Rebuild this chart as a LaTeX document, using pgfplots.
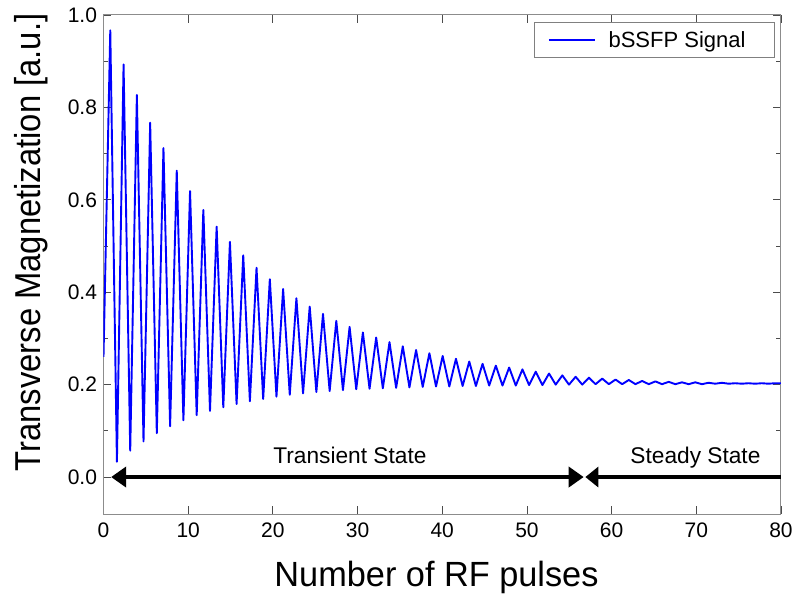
\documentclass[border=0pt]{standalone}
\usepackage{fontspec}
\setmainfont{Liberation Sans}
\usepackage{graphicx}
\usepackage{pgfplots}
\pgfplotsset{compat=1.18}
\usetikzlibrary{arrows.meta}
\pgfplotstableread{
x y
0 0.26
0.80 0.967
1.585 0.033
2.37 0.893
3.155 0.057
3.94 0.827
4.725 0.077
5.51 0.767
6.295 0.095
7.08 0.712
7.865 0.110
8.65 0.663
9.435 0.123
10.22 0.619
11.005 0.134
11.79 0.578
12.575 0.143
13.36 0.542
14.145 0.151
14.93 0.509
15.715 0.158
16.50 0.480
17.285 0.164
18.07 0.453
18.855 0.169
19.64 0.428
20.425 0.174
21.21 0.407
21.995 0.178
22.78 0.387
23.565 0.181
24.35 0.369
25.135 0.184
25.92 0.353
26.705 0.186
27.49 0.338
28.275 0.188
29.06 0.325
29.845 0.190
30.63 0.313
31.415 0.191
32.20 0.302
32.985 0.192
33.77 0.292
34.555 0.193
35.34 0.283
36.125 0.194
36.91 0.275
37.695 0.195
38.48 0.268
39.265 0.196
40.05 0.262
40.835 0.196
41.62 0.256
42.405 0.197
43.19 0.250
43.975 0.197
44.76 0.245
45.545 0.198
46.33 0.241
47.115 0.198
47.90 0.237
48.685 0.198
49.47 0.233
50.255 0.199
51.04 0.228
51.825 0.199
52.61 0.224
53.395 0.200
54.18 0.220
54.965 0.200
55.75 0.217
56.535 0.200
57.32 0.215
58.105 0.201
58.89 0.213
59.675 0.201
60.46 0.211
61.245 0.201
62.03 0.210
62.815 0.201
63.60 0.208
64.385 0.201
65.17 0.207
65.955 0.201
66.74 0.206
67.525 0.201
68.31 0.205
69.095 0.201
69.88 0.205
70.665 0.201
71.45 0.204
72.235 0.202
73.02 0.204
73.805 0.202
74.59 0.203
75.375 0.202
76.16 0.203
76.945 0.202
77.73 0.203
78.515 0.202
79.30 0.203
80.00 0.203
}\signaldata
\begin{document}
\begin{tikzpicture}
\useasboundingbox (-103.5bp,-82bp) rectangle (694.5bp,514bp);
\begin{axis}[
  at={(0,0)}, anchor=south west,
  scale only axis, width=677.5bp, height=499bp,
  xmin=0, xmax=80, ymin=-0.08, ymax=1.0,
  xtick={0,10,...,80}, ytick={0,0.2,0.4,0.6,0.8,1.0},
  minor ytick={0.1,0.3,0.5,0.7,0.9},
  tick align=inside, tick pos=both,
  major tick length=8bp, minor tick length=5bp,
  axis line style={black!45, line width=1bp},
  every tick/.style={black!70, line width=0.8bp},
  /pgf/number format/assume math mode=true,
  ticklabel style={font=\fontsize{21bp}{24bp}\selectfont},
  yticklabel style={/pgf/number format/fixed, /pgf/number format/fixed zerofill, /pgf/number format/precision=1, xshift=-3bp},
  xticklabel style={yshift=-5bp},
  xlabel={\scalebox{0.98}[1]{Number of RF pulses}},
  xlabel style={font=\fontsize{35bp}{40bp}\selectfont, at={(axis description cs:0.4915,-0.146)}, anchor=base},
  ylabel={\scalebox{0.91}[1]{Transverse Magnetization [a.u.]}},
  ylabel style={font=\fontsize{36bp}{40bp}\selectfont, at={(axis description cs:-0.0937,0.544)}, anchor=base},
  legend style={at={(axis description cs:0.9911,0.986)}, anchor=north east, draw=black!50, line width=0.8bp,
    font=\fontsize{22bp}{26bp}\selectfont, inner xsep=14bp, inner ysep=7bp, column sep=11bp},
  legend cell align=left,
  legend image code/.code={\draw[#1, line width=1.2bp] (0bp,0bp) -- (46bp,0bp);},
]
\addplot[blue, line width=1.9bp, line join=round] table[x=x, y=y] {\signaldata};
\addlegendentry{\makebox[150bp][l]{bSSFP Signal}}
\draw[line width=4.5bp, {Triangle[length=15bp,width=20bp]}-{Triangle[length=15bp,width=20bp]}] (axis cs:0.9,0) -- (axis cs:56.7,0);
\draw[line width=4.5bp, {Triangle[length=13bp,width=20bp]}-] (axis cs:56.9,0) -- (axis cs:81,0);
\node[font=\fontsize{22.7bp}{26bp}\selectfont, anchor=base] at (axis cs:29.1,0.03) {Transient State};
\node[font=\fontsize{22.7bp}{26bp}\selectfont, anchor=base] at (axis cs:69.9,0.03) {Steady State};
\end{axis}
\end{tikzpicture}
\end{document}
